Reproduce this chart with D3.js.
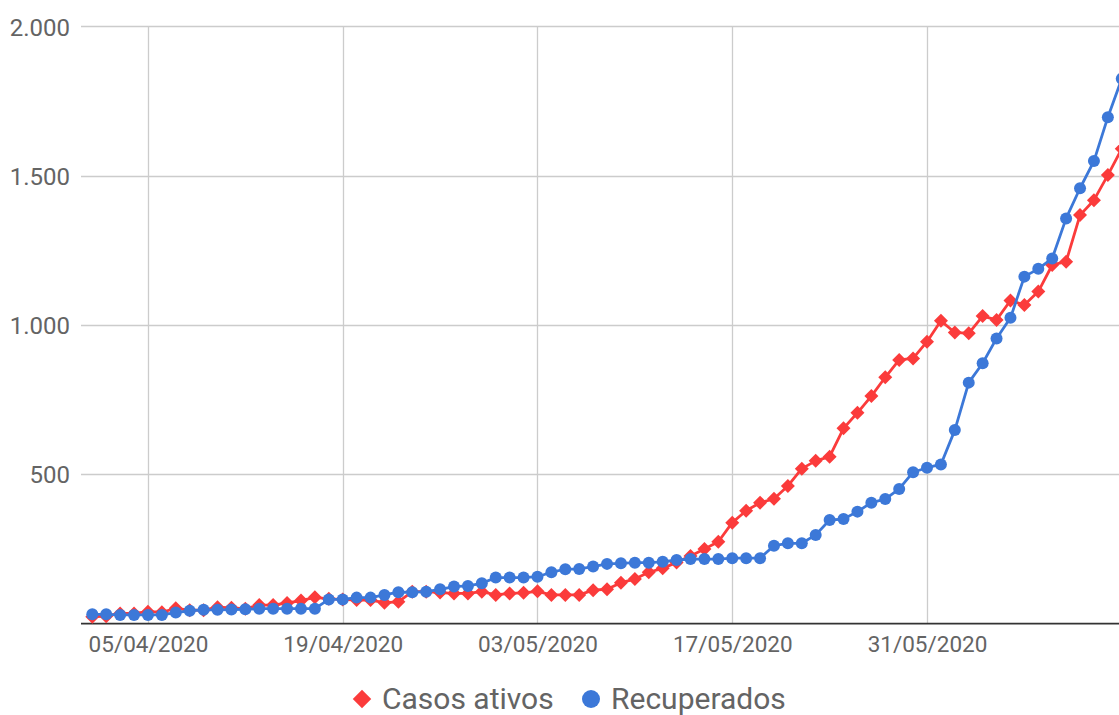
<!DOCTYPE html>
<html>
<head>
<meta charset="utf-8">
<script src="https://cdn.jsdelivr.net/npm/d3@7"></script>
<style>
  html, body { margin: 0; padding: 0; background: #fff; }
  svg { display: block; }
</style>
</head>
<body>
<svg id="chart" width="1119" height="715"></svg>
<script>
// ---------- data ----------
const dates = [
  "2020-04-01","2020-04-02","2020-04-03","2020-04-04","2020-04-05","2020-04-06","2020-04-07","2020-04-08","2020-04-09","2020-04-10",
  "2020-04-11","2020-04-12","2020-04-13","2020-04-14","2020-04-15","2020-04-16","2020-04-17","2020-04-18","2020-04-19","2020-04-20",
  "2020-04-21","2020-04-22","2020-04-23","2020-04-24","2020-04-25","2020-04-26","2020-04-27","2020-04-28","2020-04-29","2020-04-30",
  "2020-05-01","2020-05-02","2020-05-03","2020-05-04","2020-05-05","2020-05-06","2020-05-07","2020-05-08","2020-05-09","2020-05-10",
  "2020-05-11","2020-05-12","2020-05-13","2020-05-14","2020-05-15","2020-05-16","2020-05-17","2020-05-18","2020-05-19","2020-05-20",
  "2020-05-21","2020-05-22","2020-05-23","2020-05-24","2020-05-25","2020-05-26","2020-05-27","2020-05-28","2020-05-29","2020-05-30",
  "2020-05-31","2020-06-01","2020-06-02","2020-06-03","2020-06-04","2020-06-05","2020-06-06","2020-06-07","2020-06-08","2020-06-09",
  "2020-06-10","2020-06-11","2020-06-12","2020-06-13","2020-06-14"
];
const casosAtivos = [
  23, 25, 34, 34, 40, 38, 51, 45, 45, 55,
  53, 50, 62, 62, 69, 77, 88, 83, 81, 79,
  79, 70, 73, 107, 107, 104, 101, 101, 107, 96,
  101, 103, 108, 96, 96, 96, 112, 115, 137, 149,
  172, 185, 205, 226, 250, 274, 338, 378, 405, 418,
  461, 519, 545, 559, 654, 706, 762, 825, 883, 888,
  944, 1014, 975, 972, 1030, 1017, 1082, 1067, 1112, 1201,
  1212, 1368, 1418, 1502, 1590
];
const recuperados = [
  31, 31, 29, 29, 29, 29, 37, 43, 46, 46,
  47, 48, 50, 50, 50, 50, 50, 81, 81, 87,
  87, 96, 105, 105, 107, 115, 124, 126, 135, 154,
  154, 154, 157, 172, 182, 183, 191, 200, 202, 204,
  204, 207, 213, 216, 216, 216, 219, 219, 219, 261,
  269, 269, 297, 347, 350, 375, 405, 417, 451, 507,
  522, 533, 648, 807, 872, 955, 1024, 1162, 1188, 1223,
  1357, 1458, 1549, 1696, 1825
];
const xTickDates = ["2020-04-05","2020-04-19","2020-05-03","2020-05-17","2020-05-31"];
const yTickValues = [500, 1000, 1500, 2000];
const seriesNames = ["Casos ativos", "Recuperados"];
const seriesColors = ["#fb3b3b", "#3c78d8"];

// ---------- setup ----------
const parse = d3.utcParse("%Y-%m-%d");
const svg = d3.select("#chart");
const W = 1119, H = 715;
svg.append("rect").attr("width", W).attr("height", H).attr("fill", "#fff");

const plotLeft = 81;
const x = d3.scaleUtc()
  .domain([parse("2020-04-01"), parse("2020-05-31")])
  .range([92.3, 927.0]);
const y = d3.scaleLinear().domain([0, 2000]).range([623.6, 26.4]);

const ptBR = d3.formatLocale({decimal: ",", thousands: ".", grouping: [3], currency: ["R$", ""]});
const fmtY = ptBR.format(",d");
const fmtX = d3.utcFormat("%d/%m/%Y");

const FONT = "Roboto, 'Noto Sans', Arial, sans-serif";
const TXT = "#646464";

// horizontal gridlines
svg.append("g").selectAll("line").data(yTickValues).join("line")
  .attr("x1", plotLeft).attr("x2", W)
  .attr("y1", d => Math.round(y(d)) + 0.5).attr("y2", d => Math.round(y(d)) + 0.5)
  .attr("stroke", "#cccccc").attr("stroke-width", 1.3);

// vertical gridlines
svg.append("g").selectAll("line").data(xTickDates.map(parse)).join("line")
  .attr("x1", d => Math.round(x(d)) + 0.5).attr("x2", d => Math.round(x(d)) + 0.5)
  .attr("y1", y(2000)).attr("y2", y(0))
  .attr("stroke", "#cccccc").attr("stroke-width", 1.3);

// y axis labels
const yAxis = d3.axisLeft(y).tickValues(yTickValues).tickFormat(fmtY).tickSize(0).tickPadding(0);
const gy = svg.append("g").attr("transform", "translate(70,0)").call(yAxis);
gy.select(".domain").remove();
gy.selectAll("text").attr("font-family", FONT).attr("font-size", 24).attr("fill", TXT).attr("dy", "0.36em");

// x axis labels
const xAxis = d3.axisBottom(x).tickValues(xTickDates.map(parse)).tickFormat(fmtX).tickSize(0).tickPadding(0);
const gx = svg.append("g").attr("transform", "translate(0,652)").call(xAxis);
gx.select(".domain").remove();
gx.selectAll("text").attr("font-family", FONT).attr("font-size", 22.5).attr("fill", TXT).attr("dy", "0");

// baseline
svg.append("line").attr("x1", plotLeft).attr("x2", W)
  .attr("y1", y(0)).attr("y2", y(0))
  .attr("stroke", "#333").attr("stroke-width", 1.6);

// ---------- series ----------
const data = dates.map((d, i) => ({date: parse(d), a: casosAtivos[i], r: recuperados[i]}));

const lineA = d3.line().x(d => x(d.date)).y(d => y(d.a));
const lineR = d3.line().x(d => x(d.date)).y(d => y(d.r));

// Casos ativos
svg.append("path").datum(data).attr("d", lineA)
  .attr("fill", "none").attr("stroke", seriesColors[0]).attr("stroke-width", 2.8).attr("stroke-linejoin", "round");
const diamond = d3.symbol().type(d3.symbolSquare).size(98);
svg.append("g").selectAll("path").data(data).join("path")
  .attr("d", diamond)
  .attr("transform", d => `translate(${x(d.date)},${y(d.a)}) rotate(45)`)
  .attr("fill", seriesColors[0]);

// Recuperados
svg.append("path").datum(data).attr("d", lineR)
  .attr("fill", "none").attr("stroke", seriesColors[1]).attr("stroke-width", 2.8).attr("stroke-linejoin", "round");
svg.append("g").selectAll("circle").data(data).join("circle")
  .attr("cx", d => x(d.date)).attr("cy", d => y(d.r)).attr("r", 6)
  .attr("fill", seriesColors[1]);

// ---------- legend ----------
const lg = svg.append("g").attr("font-family", FONT).attr("font-size", 30).attr("fill", TXT);
const legendItems = [
  {name: seriesNames[0], color: seriesColors[0], sym: "diamond", mx: 362, tx: 382},
  {name: seriesNames[1], color: seriesColors[1], sym: "circle", mx: 591, tx: 611}
];
legendItems.forEach(it => {
  if (it.sym === "diamond") {
    lg.append("path").attr("d", d3.symbol().type(d3.symbolSquare).size(170))
      .attr("transform", `translate(${it.mx},699) rotate(45)`).attr("fill", it.color);
  } else {
    lg.append("circle").attr("cx", it.mx).attr("cy", 699).attr("r", 9).attr("fill", it.color);
  }
  lg.append("text").attr("x", it.tx).attr("y", 709).text(it.name);
});
</script>
</body>
</html>
